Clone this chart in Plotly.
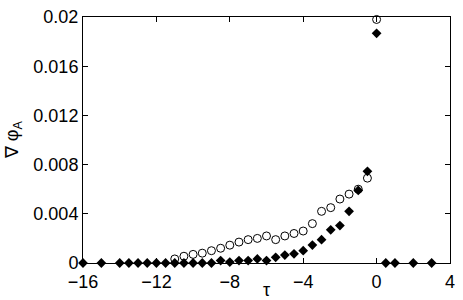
import plotly.graph_objects as go

# Open circles series
tau_circ = [-11, -10.5, -10, -9.5, -9, -8.5, -8, -7.5, -7, -6.5, -6, -5.5, -5, -4.5,
            -4, -3.5, -3, -2.5, -2, -1.5, -1, -0.5, 0]
grad_circ = [0.00033, 0.00055, 0.0007, 0.0008, 0.001, 0.0012, 0.00145, 0.0017, 0.0019,
             0.002, 0.0022, 0.0019, 0.0022, 0.0024, 0.0026, 0.0032, 0.0042, 0.0045,
             0.0052, 0.0056, 0.006, 0.0069, 0.0198]

# Filled diamonds series
tau_diam = [-16, -15, -14, -13.5, -13, -12.5, -12, -11.5, -11, -10.5, -10, -9.5, -9,
            -8.5, -8, -7.5, -7, -6.5, -6, -5.5, -5, -4.5, -4, -3.5, -3, -2.5, -2,
            -1.5, -1, -0.5, 0, 0.5, 1, 2, 3]
grad_diam = [0, 0, 0, 0, 0, 0, 0, 0, 0, 0, 0, 0, 0,
             0.0002, 0.00008, 0.0002, 0.0002, 0.00033, 0.0002, 0.00046, 0.00065,
             0.00075, 0.001, 0.00146, 0.0019, 0.0027, 0.00304, 0.0042, 0.0059,
             0.00745, 0.01867, 0, 0, 0, 0]

x_ticks = [-16, -12, -8, -4, 0, 4]
x_ticktext = ["\u221216", "\u221212", "\u22128", "\u22124", "0", "4"]
y_ticks = [0, 0.004, 0.008, 0.012, 0.016, 0.02]
y_ticktext = ["0", "0.004", "0.008", "0.012", "0.016", "0.02"]

FONT = "Liberation Sans, Arial, sans-serif"

fig = go.Figure()
fig.add_trace(go.Scatter(
    x=tau_circ, y=grad_circ, mode="markers",
    marker=dict(symbol="circle-open", size=8, color="black", line=dict(width=1, color="black")),
    cliponaxis=False, showlegend=False))
fig.add_trace(go.Scatter(
    x=tau_diam, y=grad_diam, mode="markers",
    marker=dict(symbol="diamond", size=7.5, color="black", line=dict(width=0)),
    cliponaxis=False, showlegend=False))

axis_common = dict(showline=True, linecolor="black", linewidth=1, mirror="allticks",
                   ticks="inside", ticklen=5, tickcolor="black", showgrid=False,
                   zeroline=False, automargin=False,
                   tickfont=dict(family=FONT, size=18, color="black"))

fig.update_xaxes(range=[-16, 4], tickvals=x_ticks, ticktext=x_ticktext,
                 ticklabelstandoff=2, **axis_common)
fig.update_yaxes(range=[0, 0.02], tickvals=y_ticks, ticktext=y_ticktext, **axis_common)

fig.add_annotation(text="\u03c4", xref="paper", yref="paper", x=0.5, y=-0.11,
                   showarrow=False, font=dict(family=FONT, size=18, color="black"),
                   xanchor="center", yanchor="middle")
fig.add_annotation(text="\u2207 \u03c6<sub>A</sub>", xref="paper", yref="paper", x=-0.19, y=0.5,
                   showarrow=False, textangle=-90,
                   font=dict(family=FONT, size=18, color="black"),
                   xanchor="center", yanchor="middle")

fig.update_layout(width=463, height=300, margin=dict(l=83, r=13, t=17, b=37, autoexpand=False),
                  plot_bgcolor="white", paper_bgcolor="white",
                  font=dict(family=FONT, size=18, color="black"))

fig.write_html("out.html", config={"displayModeBar": False},
               post_script="document.body.style.margin='0';")
